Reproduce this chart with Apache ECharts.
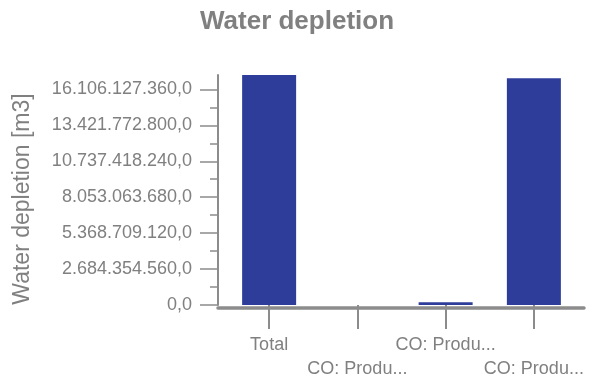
<!DOCTYPE html>
<html>
<head>
<meta charset="utf-8">
<script src="https://cdn.jsdelivr.net/npm/echarts@6/dist/echarts.min.js"></script>
<style>
  html, body { margin: 0; padding: 0; background: #fff; }
  #chart { width: 594px; height: 381px; }
</style>
</head>
<body>
<div id="chart"></div>
<script>
// data
const categories = ['Total', 'CO: Produ...', 'CO: Produ...', 'CO: Produ...'];
const values = [17180000000, 0, 210000000, 16940000000];
const yTicks = [0, 2684354560, 5368709120, 8053063680, 10737418240, 13421772800, 16106127360];
const yStep = 2684354560;

const grey = '#808080';
const lineGrey = '#8c8c8c';
const font = 'Liberation Sans, Arial, sans-serif';

// 16.106.127.360,0 style
function fmt(v) {
    let s = String(Math.round(v));
    return s.replace(/\B(?=(\d{3})+(?!\d))/g, '.') + ',0';
}

const myChart = echarts.init(document.getElementById('chart'));
myChart.setOption({
    animation: false,
    title: {
        text: 'Water depletion',
        left: 'center',
        top: 4,
        textStyle: { color: grey, fontSize: 26, fontWeight: 'bold', fontFamily: font }
    },
    grid: [
        { left: 225, right: 16, top: 75, bottom: 73.5 },
        { left: 218, right: 10, top: 75, bottom: 73.5 }
    ],
    xAxis: [
        {
            type: 'category',
            gridIndex: 0,
            data: categories,
            axisLine: { show: true, lineStyle: { opacity: 0 } },
            axisTick: { show: true, alignWithLabel: true, length: 24, lineStyle: { color: lineGrey, width: 2 } },
            axisLabel: {
                interval: 0,
                margin: 28,
                color: grey,
                fontSize: 18,
                fontFamily: font,
                lineHeight: 24,
                formatter: (v, i) => i % 2 ? '\n' + v : v
            }
        },
        {
            // long bottom line, reaches past the bars on both sides
            type: 'value',
            gridIndex: 1,
            z: 5,
            axisLine: { show: true, lineStyle: { color: lineGrey, width: 3.5 } },
            axisTick: { show: false },
            axisLabel: { show: false },
            splitLine: { show: false }
        }
    ],
    yAxis: [
        {
            type: 'value',
            gridIndex: 0,
            position: 'left',
            min: 0,
            max: 'dataMax',
            interval: yStep,
            offset: 7,
            name: 'Water depletion [m3]',
            nameLocation: 'middle',
            nameGap: 184,
            nameTextStyle: { color: grey, fontSize: 23, fontFamily: font, padding: [0, 18, 0, 0] },
            axisLine: { show: true, lineStyle: { color: lineGrey, width: 2 } },
            axisTick: { show: true, length: 18, customValues: yTicks, lineStyle: { color: lineGrey, width: 1.5 } },
            minorTick: { show: true, splitNumber: 2, length: 8, lineStyle: { color: lineGrey, width: 1.5 } },
            axisLabel: {
                customValues: yTicks,
                margin: 26,
                color: grey,
                fontSize: 18,
                fontFamily: font,
                formatter: fmt
            },
            splitLine: { show: false }
        },
        {
            type: 'value',
            gridIndex: 1,
            show: false
        }
    ],
    series: [
        {
            type: 'bar',
            xAxisIndex: 0,
            yAxisIndex: 0,
            barWidth: 54,
            itemStyle: { color: '#2e3c9a' },
            data: values
        }
    ]
});
</script>
</body>
</html>
